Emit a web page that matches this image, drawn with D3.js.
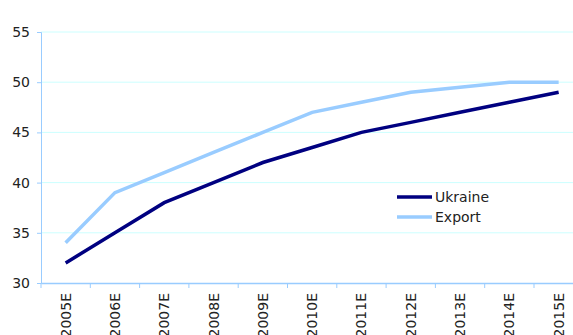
<!DOCTYPE html>
<html>
<head>
  <script src="https://d3js.org/d3.v7.min.js"></script>
  <style>
    body { margin: 0; background: #fff; }
    text { font-family: "DejaVu Sans", Verdana, sans-serif; font-size: 14px; fill: #222; }
  </style>
</head>
<body>
  <svg id="canvas" width="573" height="335"></svg>
<script>
  const years = ["2005E", "2006E", "2007E", "2008E", "2009E", "2010E", "2011E", "2012E", "2013E", "2014E", "2015E"];
  const ukraine = [32, 35, 38, 40, 42, 43.5, 45, 46, 47, 48, 49];
  const exportVals = [34, 39, 41, 43, 45, 47, 48, 49, 49.5, 50, 50];
  const yTicks = [30, 35, 40, 45, 50, 55];

  const svg = d3.select("svg");
  const plotLeft = 41, plotTop = 32, plotBottom = 283;
  const band = 49.3;

  const x = d3.scaleBand().domain(years).range([plotLeft, plotLeft + band * years.length]);
  const y = d3.scaleLinear().domain([30, 55]).range([plotBottom, plotTop]);

  // gridlines
  svg.append("g").selectAll("line").data(yTicks.slice(1)).join("line")
      .attr("x1", plotLeft).attr("x2", 573)
      .attr("y1", d => y(d)).attr("y2", d => y(d))
      .attr("stroke", "#ccffff").attr("stroke-width", 1);

  // y axis
  const yAxis = svg.append("g").attr("transform", `translate(${plotLeft},0)`)
      .call(d3.axisLeft(y).tickValues(yTicks).tickSize(4).tickPadding(7));
  yAxis.select(".domain").attr("stroke", "#99ccff");
  yAxis.selectAll(".tick line").attr("stroke", "#99ccff");
  yAxis.selectAll("text").style("font-size", "14px").attr("fill", "#222");

  // x axis
  const xAxis = svg.append("g").attr("transform", `translate(0,${plotBottom})`)
      .call(d3.axisBottom(x).tickSize(0).tickFormat(""));
  xAxis.select(".domain").attr("stroke", "#99ccff").attr("stroke-width", 1.5);
  svg.append("g").selectAll("line").data(years).join("line")
      .attr("x1", d => x(d)).attr("x2", d => x(d))
      .attr("y1", plotBottom).attr("y2", plotBottom + 5)
      .attr("stroke", "#99ccff");
  svg.append("g").selectAll("text").data(years).join("text")
      .attr("transform", d => `translate(${x(d) + x.bandwidth() / 2 + 5},${plotBottom + 10}) rotate(-90)`)
      .attr("text-anchor", "end")
      .text(d => d);

  const line = d3.line()
      .x((d, i) => x(years[i]) + x.bandwidth() / 2)
      .y(d => y(d));

  svg.append("path").datum(exportVals).attr("d", line)
      .attr("fill", "none").attr("stroke", "#99ccff").attr("stroke-width", 3.5);
  svg.append("path").datum(ukraine).attr("d", line)
      .attr("fill", "none").attr("stroke", "#000080").attr("stroke-width", 3.5);

  // legend
  const legend = [["Ukraine", "#000080"], ["Export", "#99ccff"]];
  const lg = svg.append("g").attr("transform", "translate(397,197)");
  legend.forEach((d, i) => {
    lg.append("line").attr("x1", 0).attr("x2", 35).attr("y1", i * 20).attr("y2", i * 20)
        .attr("stroke", d[1]).attr("stroke-width", 3.5);
    lg.append("text").attr("x", 38).attr("y", i * 20 + 5).text(d[0]);
  });
</script>
</body>
</html>
